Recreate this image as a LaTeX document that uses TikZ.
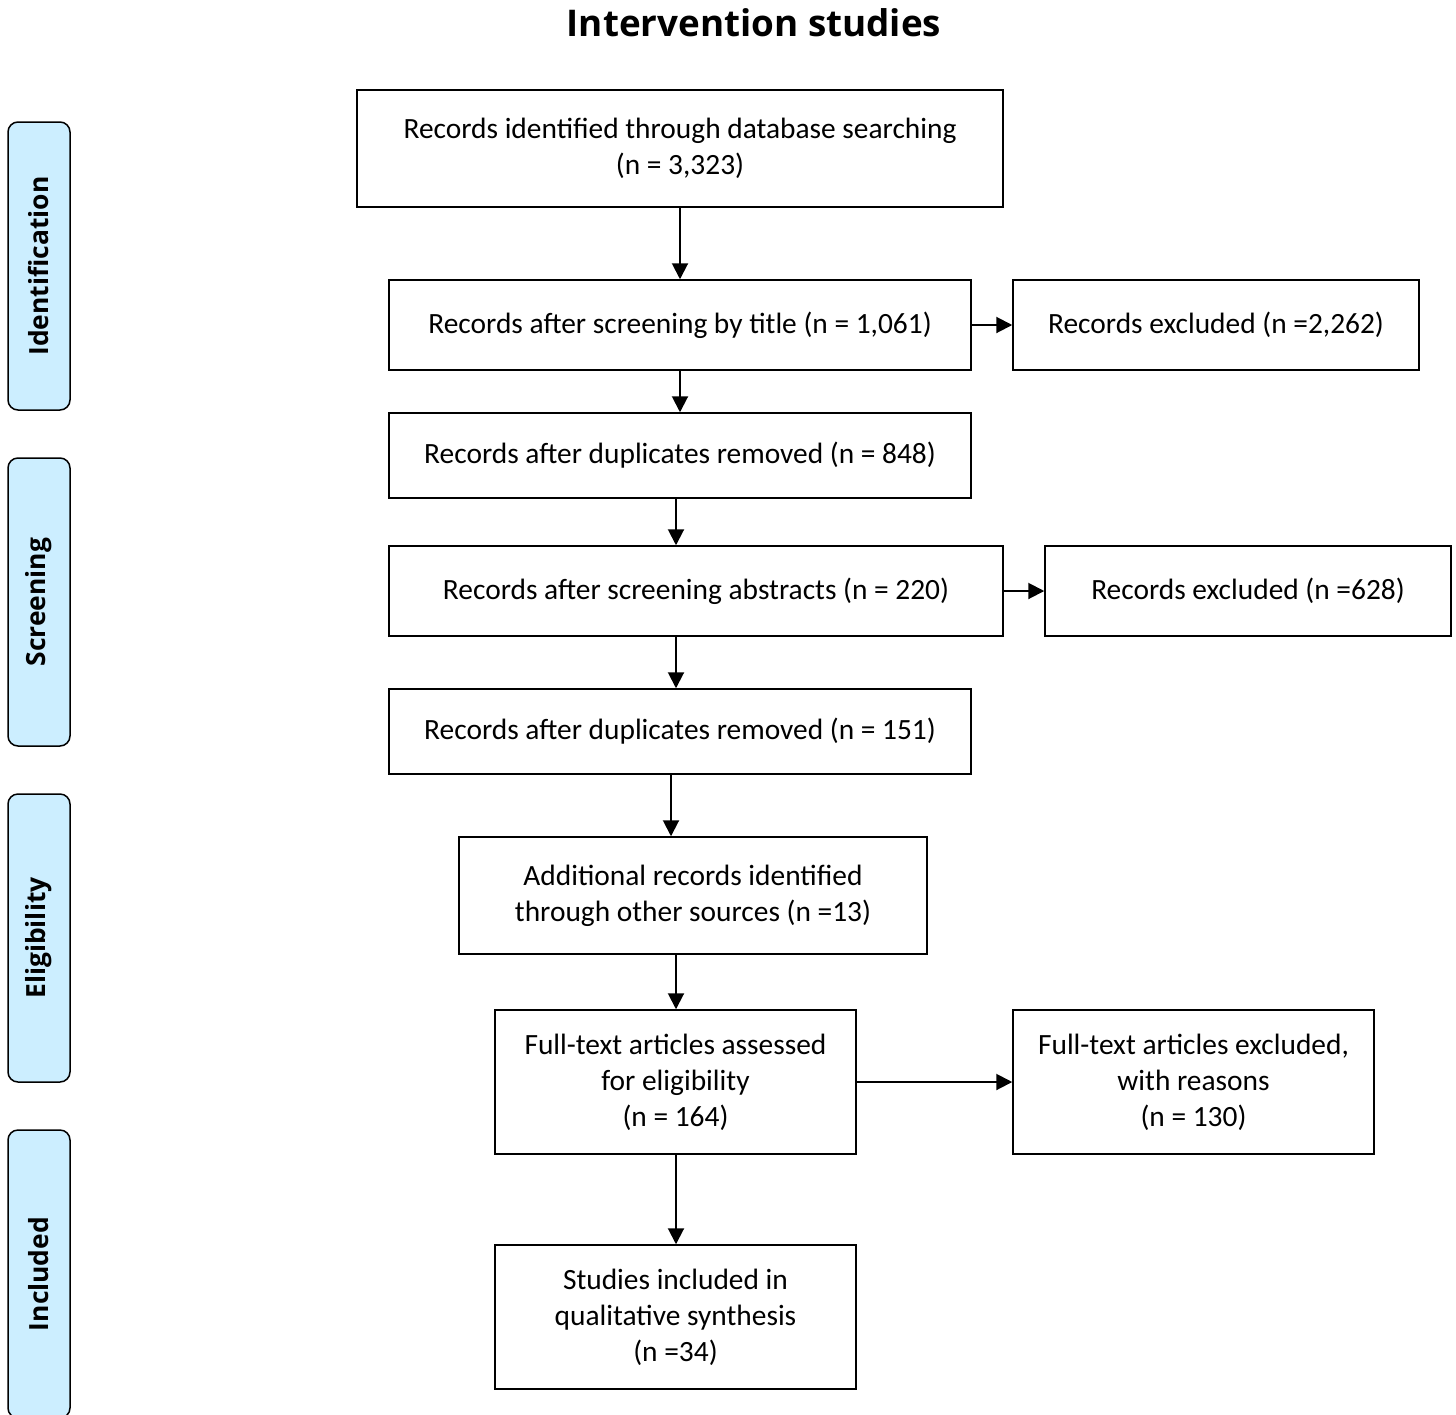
\documentclass[tikz,border=0pt]{standalone}
\usepackage{fontspec}
\setmainfont{Carlito}
\newfontfamily\headfont{Open Sans}
\usetikzlibrary{arrows.meta}
\definecolor{sideblue}{HTML}{CCEEFF}
\tikzset{
	box/.style={draw,line width=0.75pt,align=center,inner sep=0pt,font=\fontsize{14.7}{18}\selectfont},
	sidebox/.style={draw,line width=0.75pt,fill=sideblue,rounded corners=5pt,minimum width=31pt,minimum height=144pt,inner sep=0pt},
	sidelabel/.style={rotate=90,font=\headfont\fontsize{13.2}{15}\selectfont\bfseries},
	arr/.style={line width=1pt,-{Triangle[length=8pt,width=8pt]}}
}
\begin{document}
\begin{tikzpicture}[x=0.5pt,y=-0.5pt]
	\useasboundingbox (0,0) rectangle (1456,1414);
	% Title
	\node (title) [font=\headfont\fontsize{18.4}{22}\selectfont\bfseries] at (754,23) {Intervention studies};
	% Phases
	\node (sid) [sidebox] at (39,266) {};\node [sidelabel] at (sid) {Identification};
	\node (ssc) [sidebox] at (39,602) {};\node [sidelabel] at (ssc) {Screening};
	\node (sel) [sidebox] at (39,938) {};\node [sidelabel] at (sel) {Eligibility};
	\node (sin) [sidebox] at (39,1274) {};\node [sidelabel] at (sin) {Included};
	% Main column
	\node (ident) [box,minimum width=323pt,minimum height=58.5pt] at (680,148.5) {Records identified through database searching\\(n = 3,323)};
	\node (title1) [box,minimum width=291pt,minimum height=45pt] at (680,325) {Records after screening by title (n = 1,061)};
	\node (dup1) [box,minimum width=291pt,minimum height=42.5pt] at (680,455.5) {Records after duplicates removed (n = 848)};
	\node (abstr) [box,minimum width=307pt,minimum height=45pt] at (696,591) {Records after screening abstracts (n = 220)};
	\node (dup2) [box,minimum width=291pt,minimum height=42.5pt] at (680,731.5) {Records after duplicates removed (n = 151)};
	\node (other) [box,minimum width=234pt,minimum height=58.5pt] at (693,895.5) {Additional records identified\\through other sources (n =13)};
	\node (full) [box,minimum width=180.5pt,minimum height=72pt] at (675.5,1082) {Full-text articles assessed\\for eligibility\\(n = 164)};
	\node (incl) [box,minimum width=180.5pt,minimum height=72pt] at (675.5,1317) {Studies included in\\qualitative synthesis\\(n =34)};
	% Exclusions
	\node (exc1) [box,minimum width=203pt,minimum height=45pt] at (1216,325) {Records excluded (n =2,262)};
	\node (exc2) [box,minimum width=203pt,minimum height=45pt] at (1248,591) {Records excluded (n =628)};
	\node (exc3) [box,minimum width=180.5pt,minimum height=72pt] at (1193.5,1082) {Full-text articles excluded,\\with reasons\\(n = 130)};
	% Arrows
	\draw [arr] (ident.south -| 680,0) -- (title1.north -| 680,0);
	\draw [arr] (title1.south -| 680,0) -- (dup1.north -| 680,0);
	\draw [arr] (dup1.south -| 676,0) -- (abstr.north -| 676,0);
	\draw [arr] (abstr.south -| 676,0) -- (dup2.north -| 676,0);
	\draw [arr] (dup2.south -| 671,0) -- (other.north -| 671,0);
	\draw [arr] (other.south -| 676,0) -- (full.north -| 676,0);
	\draw [arr] (full.south -| 676,0) -- (incl.north -| 676,0);
	\draw [arr] (title1.east) -- (exc1.west);
	\draw [arr] (abstr.east) -- (exc2.west);
	\draw [arr] (full.east) -- (exc3.west);
\end{tikzpicture}
\end{document}
